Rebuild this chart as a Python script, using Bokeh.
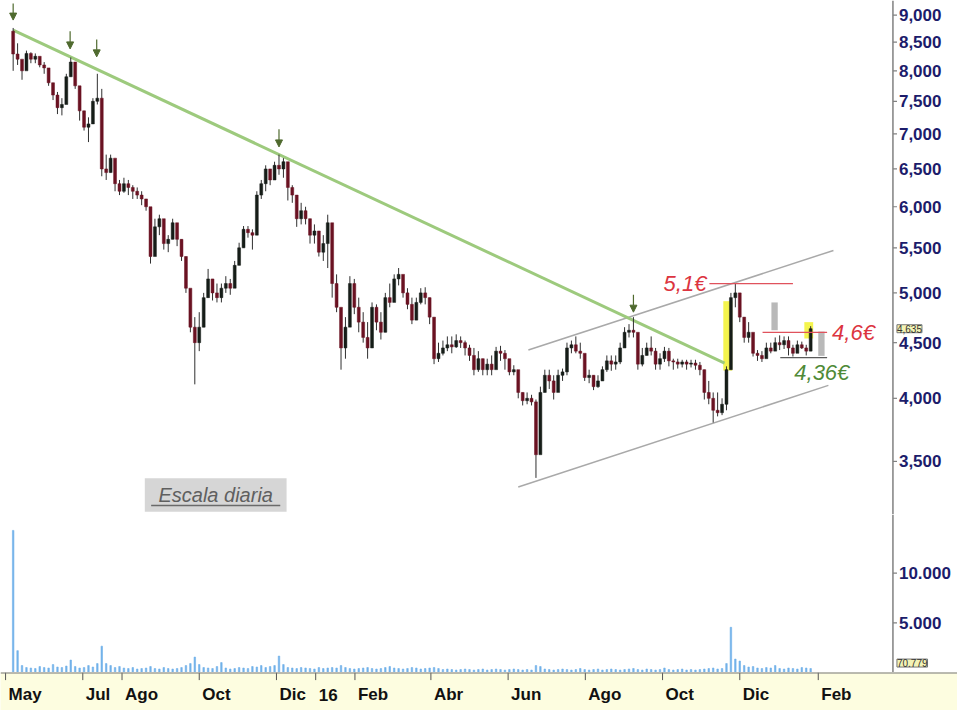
import pandas as pd
from bokeh.plotting import figure
from bokeh.layouts import column
from bokeh.models import (Range1d, Label, Arrow, NormalHead, Span, ColumnDataSource)
from bokeh.core.properties import value
from bokeh.embed import file_html
from bokeh.resources import INLINE

# ---------------- data ----------------
first_date = "2015-05-07"
last_date = "2017-01-26"
first_open = 8700

close = [
    8290, 8200, 8000, 8300, 8200, 8250, 8100, 8050, 7800, 7600,
    7400, 7450, 7900, 8150, 7750, 7350, 7100, 7150, 7500, 7550,
    6500, 6450, 6650, 6300, 6200, 6300, 6250, 6200, 6150, 6100,
    6000, 5400, 5750, 5850, 5550, 5600, 5800, 5600, 5400, 5050,
    4650, 4500, 4650, 4950, 5150, 5000, 4950, 5050, 5100, 5050,
    5300, 5500, 5720, 5680, 5650, 6150, 6300, 6500, 6350, 6550,
    6500, 6600, 6250, 6150, 5850, 5950, 5850, 5650, 5700, 5450,
    5550, 5800, 5100, 4850, 4450, 4650, 5100, 4850, 4700, 4550,
    4450, 4850, 4700, 4600, 4950, 4900, 5150, 5200, 5000, 4880,
    4720, 4900, 5000, 4950, 4750, 4350, 4400, 4450, 4480, 4460,
    4520, 4500, 4450, 4380, 4250, 4350, 4250, 4300, 4250, 4420,
    4400, 4350, 4230, 4250, 4050, 3980, 4000, 3970, 3550, 4050,
    4200, 4150, 4050, 4200, 4230, 4450, 4480, 4420, 4400, 4180,
    4200, 4100, 4150, 4250, 4330, 4300, 4320, 4450, 4600, 4620,
    4600, 4300, 4380, 4450, 4420, 4300, 4350, 4420, 4330, 4320,
    4300, 4320, 4300, 4310, 4290, 4250, 4050, 4000, 3900, 3880,
    3950, 4250, 4950, 5000, 4750, 4550, 4600, 4400, 4380, 4350,
    4450, 4420, 4500, 4480, 4520, 4450, 4400, 4480, 4450, 4420,
    4635]

high = [
    8760, 8480, 8150, 8350, 8320, 8300, 8220, 8150, 8000, 7800,
    7650, 7550, 7950, 8230, 8000, 7650, 7350, 7250, 7550, 7950,
    7700, 6700, 6700, 6600, 6350, 6380, 6350, 6280, 6250, 6200,
    6100, 5950, 5850, 5900, 5700, 5650, 5850, 5750, 5600, 5400,
    5000, 4750, 4800, 5000, 5260, 5150, 5100, 5100, 5180, 5150,
    5350, 5560, 5760, 5760, 5720, 6200, 6350, 6550, 6500, 6600,
    6700, 6650, 6450, 6280, 6150, 6050, 6000, 5850, 5780, 5700,
    5650, 5900, 5500, 5200, 4800, 4750, 5180, 5150, 4950, 4800,
    4700, 4900, 4880, 4800, 5000, 5100, 5200, 5270, 5150, 5050,
    4950, 4950, 5050, 5060, 4950, 4620, 4500, 4520, 4560, 4560,
    4580, 4560, 4520, 4480, 4450, 4420, 4350, 4350, 4380, 4460,
    4470, 4430, 4300, 4290, 4200, 4050, 4050, 4030, 3990, 4100,
    4250, 4250, 4200, 4250, 4260, 4500, 4520, 4560, 4500, 4350,
    4250, 4200, 4200, 4280, 4380, 4380, 4380, 4500, 4650, 4680,
    4750, 4550, 4450, 4500, 4560, 4450, 4400, 4460, 4450, 4350,
    4350, 4340, 4340, 4340, 4340, 4320, 4250, 4150, 4050, 4050,
    4000, 4280, 5000, 5100, 4980, 4750, 4700, 4560, 4430, 4420,
    4500, 4500, 4550, 4570, 4560, 4560, 4480, 4520, 4510, 4480,
    4660]

low = [
    8000, 8100, 7850, 8050, 8130, 8130, 8060, 7950, 7750, 7520,
    7300, 7280, 7700, 7900, 7700, 7200, 7050, 6880, 7150, 7450,
    6400, 6350, 6450, 6200, 6150, 6180, 6150, 6100, 6100, 6020,
    5950, 5320, 5550, 5650, 5480, 5450, 5600, 5520, 5350, 5000,
    4600, 4120, 4420, 4650, 4950, 4920, 4900, 4900, 5000, 4980,
    5100, 5300, 5500, 5620, 5480, 5750, 6100, 6200, 6280, 6380,
    6420, 6380, 6080, 6050, 5750, 5780, 5780, 5550, 5550, 5400,
    5350, 5270, 4950, 4800, 4250, 4350, 4800, 4780, 4600, 4500,
    4350, 4450, 4620, 4530, 4600, 4850, 4950, 5080, 4950, 4830,
    4680, 4720, 4880, 4880, 4680, 4300, 4320, 4380, 4420, 4400,
    4450, 4450, 4380, 4330, 4200, 4230, 4200, 4200, 4200, 4280,
    4330, 4250, 4200, 4200, 4000, 3940, 3950, 3940, 3380, 3700,
    4050, 4080, 3990, 4150, 4150, 4200, 4400, 4400, 4350, 4150,
    4130, 4070, 4090, 4150, 4230, 4240, 4250, 4300, 4480, 4550,
    4550, 4250, 4280, 4380, 4380, 4250, 4250, 4320, 4280, 4250,
    4260, 4270, 4250, 4270, 4250, 4200, 3990, 3950, 3800, 3850,
    3860, 3900, 4250, 4850, 4700, 4500, 4500, 4370, 4330, 4320,
    4370, 4400, 4440, 4430, 4440, 4380, 4370, 4430, 4440, 4380,
    4420]

volume = [
    14300, 2200, 700, 500, 450, 400, 600, 500, 450, 800,
    550, 500, 650, 1250, 600, 450, 500, 700, 550, 900,
    2650, 900, 700, 500, 600, 450, 400, 500, 350, 400,
    450, 600, 400, 350, 500, 400, 350, 400, 500, 700,
    900, 1550, 800, 500, 450, 400, 600, 1000, 450, 350,
    400, 500, 450, 400, 600, 550, 700, 500, 600, 700,
    1650, 800, 500, 450, 400, 500, 450, 400, 350, 500,
    400, 450, 500, 450, 700, 500, 400, 350, 400, 450,
    500, 400, 350, 400, 500, 600, 450, 400, 350, 400,
    500, 450, 350, 400, 450, 500, 400, 300, 350, 300,
    250, 300, 350, 300, 250, 300, 350, 250, 300, 350,
    300, 250, 300, 350, 300, 250, 300, 250, 700, 600,
    350, 300, 250, 300, 350, 300, 250, 300, 400, 300,
    250, 300, 350, 250, 300, 350, 300, 250, 300, 350,
    400, 300, 250, 350, 300, 250, 300, 450, 300, 250,
    300, 350, 250, 300, 250, 300, 350, 400, 450, 350,
    400, 900, 4550, 1350, 1150, 700, 550, 600, 450, 400,
    500, 450, 700, 400, 350, 450, 400, 350, 500, 450,
    400]

price_ticks = [3500, 4000, 4500, 5000, 5500, 6000, 6500, 7000, 7500, 8000, 8500, 9000]
price_tick_labels = ["3,500", "4,000", "4,500", "5,000", "5,500", "6,000",
                     "6,500", "7,000", "7,500", "8,000", "8,500", "9,000"]
volume_ticks = [5000, 10000]
volume_tick_labels = ["5.000", "10.000"]

month_ticks = ["2015-05-01", "2015-07-01", "2015-08-01", "2015-10-01", "2015-12-01",
               "2016-01-01", "2016-02-01", "2016-04-01", "2016-06-01", "2016-08-01",
               "2016-10-01", "2016-12-01", "2017-02-01"]
month_labels = ["May", "Jul", "Ago", "Oct", "Dic", "16", "Feb", "Abr", "Jun", "Ago",
                "Oct", "Dic", "Feb"]

# trend line (resistance) and channel
trend_dates = ["2015-05-07", "2016-11-19"]
trend_prices = [8720, 4310]
channel_dates = [["2016-06-17", "2017-02-13"], ["2016-06-09", "2017-02-09"]]
channel_prices = [[4430, 5470], [3315, 4111]]

# arrows over the highs
arrow_dates = ["2015-05-07", "2015-06-21", "2015-07-12", "2015-12-03", "2016-09-08"]
arrow_from = [9227, 8700, 8550, 7070, 4980]
arrow_to = [8907, 8380, 8240, 6810, 4800]

# price levels
level_prices = [5100, 4600, 4360]
level_start = ["2016-11-07", "2016-12-19", "2017-01-02"]
level_end = ["2017-01-12", "2017-02-08", "2017-02-08"]
level_texts = ["5,1€", "4,6€", "4,36€"]

# yellow highlights and grey measured moves
yellow_left = ["2016-11-18", "2017-01-21"]
yellow_right = ["2016-11-25", "2017-01-28"]
yellow_top = [4913, 4700]
yellow_bottom = [4242, 4540]
grey_left = ["2016-12-26", "2017-02-01"]
grey_right = ["2016-12-31", "2017-02-06"]
grey_top = [4900, 4607]
grey_bottom = [4620, 4376]

last_price_text = "4,635"
last_price = 4635
last_volume_text = "70.779"

# ---------------- helpers ----------------
def ms(d):
    return pd.Timestamp(d).value / 1e6

DAY = 86400000.0
dates = pd.date_range(first_date, last_date, periods=len(close))
opens = [first_open] + close[:-1]
up_col, down_col = "#161d18", "#6a1222"
colors = [up_col if c >= o else down_col for o, c in zip(opens, close)]
src = ColumnDataSource(dict(date=dates, open=opens, close=close, high=high, low=low,
                            color=colors, vol=volume))

FW = 957
x_range = Range1d(ms("2015-04-27"), ms("2017-05-22"))
AXIS_X = ms("2017-04-01")          # where the price/volume scale sits
AXIS_FONT = "Liberation Sans"
NAVY = "#1c1c6b"
AXIS_GREY = "#808080"


def right_scale(p, ticks, labels):
    p.add_layout(Span(location=AXIS_X, dimension="height", line_color=AXIS_GREY,
                      line_width=1.5))
    n = len(ticks)
    p.segment(x0=[AXIS_X] * n, y0=ticks, x1=[AXIS_X + 3.2 * DAY] * n, y1=ticks,
              line_color=AXIS_GREY, line_width=1.2)
    p.text(x=[AXIS_X] * n, y=ticks, text=labels, x_offset=6, text_align="left",
           text_baseline="middle", text_font=value(AXIS_FONT), text_font_style="bold",
           text_font_size="17px", text_color=NAVY)


def tag(p, y, txt):
    p.add_layout(Label(x=AXIS_X, y=y, text=txt, x_offset=4, text_baseline="middle",
                       text_font=AXIS_FONT, text_font_size="10px", text_color="#333333",
                       background_fill_color="#f3f3b5", border_line_color="#777777"))


# ---------------- price panel ----------------
p1 = figure(x_axis_type="datetime", y_axis_type="log", x_range=x_range,
            y_range=Range1d(3128, 9284), frame_width=FW, frame_height=514,
            output_backend="svg", toolbar_location=None, x_axis_location=None,
            y_axis_location=None, min_border=0, outline_line_color=None,
            background_fill_color="white", border_fill_color="white")
p1.grid.visible = False

# escala box
p1.quad(left=[ms("2015-08-19")], right=[ms("2015-12-09")], top=[3377], bottom=[3147],
        fill_color="#d6d6d6", line_color=None)
p1.add_layout(Label(x=ms("2015-10-14"), y=3262, text="Escala diaria", text_align="center",
                    text_baseline="middle", text_font=AXIS_FONT,
                    text_font_style="italic", text_font_size="20px", text_color="#5f5f5f"))
p1.segment(x0=[ms("2015-08-24")], y0=[3188], x1=[ms("2015-12-04")], y1=[3188],
           line_color="#6a6a6a", line_width=1.5)

# highlights behind the candles
p1.quad(left=pd.to_datetime(yellow_left), right=pd.to_datetime(yellow_right),
        top=yellow_top, bottom=yellow_bottom, fill_color="#f2f22e", fill_alpha=0.85,
        line_color=None)
p1.quad(left=pd.to_datetime(grey_left), right=pd.to_datetime(grey_right),
        top=grey_top, bottom=grey_bottom, fill_color="#b9b9b9", line_color=None)

# channel + trend
p1.multi_line(xs=[list(pd.to_datetime(d)) for d in channel_dates], ys=channel_prices,
              line_color="#a9a9a9", line_width=1.5)
p1.line(x=pd.to_datetime(trend_dates), y=trend_prices, line_color="#9dca7d", line_width=3)

# candles
p1.segment(x0="date", y0="high", x1="date", y1="low", source=src,
           line_color="#303030", line_width=1)
p1.vbar(x="date", width=2.3 * DAY, top="open", bottom="close", source=src,
        fill_color="color", line_color="color", line_width=0.5)

# levels
lvl_colors = ["#e0525c", "#e0525c", "#5a5a5a"]
p1.segment(x0=pd.to_datetime(level_start), y0=level_prices, x1=pd.to_datetime(level_end),
           y1=level_prices, line_color=lvl_colors, line_width=1.3)
p1.add_layout(Label(x=ms(level_start[0]), y=level_prices[0], text=level_texts[0],
                    text_align="right", text_baseline="middle", x_offset=-3,
                    text_font=AXIS_FONT, text_font_style="italic",
                    text_font_size="22px", text_color="#dc3440"))
p1.add_layout(Label(x=ms(level_end[1]), y=level_prices[1], text=level_texts[1],
                    text_align="left", text_baseline="middle", x_offset=5,
                    text_font=AXIS_FONT, text_font_style="italic",
                    text_font_size="22px", text_color="#dc3440"))
p1.add_layout(Label(x=ms(level_start[2]), y=level_prices[2], text=level_texts[2],
                    text_align="left", text_baseline="top", x_offset=14, y_offset=-2,
                    text_font=AXIS_FONT, text_font_style="italic",
                    text_font_size="22px", text_color="#4f8a37"))

# arrows
asrc = ColumnDataSource(dict(x=pd.to_datetime(arrow_dates), y0=arrow_from, y1=arrow_to))
p1.add_layout(Arrow(x_start="x", y_start="y0", x_end="x", y_end="y1", source=asrc,
                    line_color="#4f6a2e", line_width=1.2,
                    end=NormalHead(size=7, fill_color="#4f6a2e", line_color="#4f6a2e")))

right_scale(p1, price_ticks, price_tick_labels)
tag(p1, last_price, last_price_text)

# ---------------- volume panel ----------------
p2 = figure(x_axis_type="datetime", x_range=x_range, y_range=Range1d(0, 15900),
            frame_width=FW, frame_height=158, output_backend="svg",
            toolbar_location=None, x_axis_location=None, y_axis_location=None,
            min_border=0, outline_line_color=None)
p2.grid.visible = False
p2.vbar(x="date", width=1.2 * DAY, top="vol", bottom=0, source=src,
        fill_color="#72b2ea", line_color="#72b2ea", line_width=0.6)
right_scale(p2, volume_ticks, volume_tick_labels)
tag(p2, 950, last_volume_text)

# ---------------- date band ----------------
pb = figure(x_axis_type="datetime", x_range=x_range, y_range=Range1d(0, 1),
            frame_width=FW, frame_height=38, output_backend="svg",
            toolbar_location=None, x_axis_location=None, y_axis_location=None,
            min_border=0, outline_line_color=None,
            background_fill_color="#fdfde0", border_fill_color="white")
pb.grid.visible = False
mt = pd.to_datetime(month_ticks)
pb.segment(x0=mt, y0=[1.0] * len(mt), x1=mt, y1=[0.8] * len(mt),
           line_color="#555555", line_width=1)
pb.text(x=mt, y=[0.42] * len(mt), text=month_labels, x_offset=3,
        text_align="left", text_baseline="middle", text_font=value(AXIS_FONT),
        text_font_style="bold", text_font_size="17px", text_color="#111111")
pb.add_layout(Span(location=1, dimension="width", line_color="#777777", line_width=2))

layout = column(p1, p2, pb, spacing=0)
open("out.html", "w").write(file_html(layout, INLINE))
